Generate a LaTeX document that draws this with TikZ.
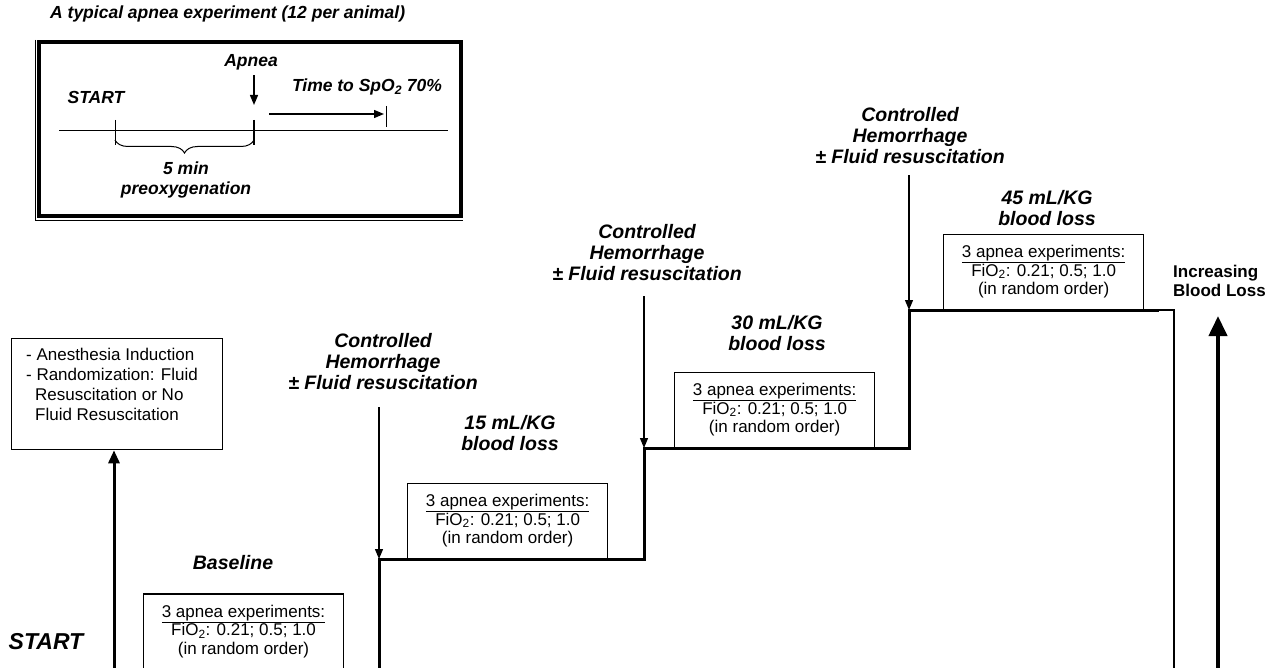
\documentclass[tikz,border=0pt]{standalone}
\usepackage{fontspec}
\setmainfont{Liberation Sans}
\usetikzlibrary{arrows.meta,decorations.pathreplacing,positioning}

\tikzset{
  lbl/.style={font=\fontsize{17.5}{20.5}\selectfont\bfseries\itshape, align=center, inner sep=0pt},
  mainlbl/.style={lbl, font=\fontsize{19.5}{21}\selectfont\bfseries\itshape},
  apneabox/.style={draw, line width=1.3pt, minimum width=200pt, minimum height=75pt,
    align=center, inner sep=0pt, font=\fontsize{17}{18.5}\selectfont},
  thinarrow/.style={->, line width=1.3pt},
  stepline/.style={line width=3pt},
}
\newcommand{\apneatext}{\underline{3 apnea experiments:}\\FiO\textsubscript{2}: 0.21; 0.5; 1.0\\(in random order)}
\newcommand{\hemtext}{Controlled\\Hemorrhage\\± Fluid resuscitation}

\begin{document}
\begin{tikzpicture}[x=1pt,y=-1pt,>={Triangle[width=8pt,length=10pt]}]
\useasboundingbox (0,0) rectangle (1276,668);

% inset: a typical apnea experiment
\node[lbl,anchor=west] (title) at (50,14) {A typical apnea experiment (12 per animal)};
\draw[line width=3.5pt] (39,42) rectangle (461,216);
\draw[line width=0.8pt] (35.5,40) -- (35.5,220) -- (463,220);
\node[lbl] (istart) at (96,97) {START};
\node[lbl] (apnea) at (251,62) {Apnea};
\node[lbl] (ttime) at (367,87) {Time to SpO\textsubscript{2} 70\%};
\node[lbl] (preox) at (186,180) {5 min\\preoxygenation};
\coordinate (t0) at (115,131);
\coordinate (t1) at (254,131);
\coordinate (t2) at (386,114);
\draw[line width=1pt] (59,131) -- (448,131);
\draw[line width=1pt] ([yshift=11pt]t0) -- ([yshift=-14pt]t0);
\draw[line width=2.5pt] ([yshift=11pt]t1) -- ([yshift=-14pt]t1);
\draw[thinarrow] ([yshift=-5pt]apnea.south -| t1) -- ([yshift=26pt]t1);
\draw[thinarrow] (269,114) -- ([xshift=-2pt]t2);
\draw[line width=1pt] ([yshift=8pt]t2) -- ([yshift=-13pt]t2);
\draw[decorate,decoration={brace,mirror,amplitude=13pt},line width=1pt]
  ([yshift=-9pt]t0) -- ([yshift=-9pt]t1);

% main timeline
\node[draw,line width=1.3pt,inner xsep=14.5pt,inner ysep=10pt,anchor=north west,
  font=\fontsize{17}{19.7}\selectfont] (prep) at (11,338)
  {\parbox[c][91pt][t]{182pt}{- Anesthesia Induction\\- Randomization: Fluid\\
   \hspace*{9pt}Resuscitation or No\\\hspace*{9pt}Fluid Resuscitation}};
\node[font=\fontsize{23}{23}\selectfont\bfseries\itshape,inner sep=0pt] (start) at (46,642) {START};

\coordinate (s0) at (114,668);
\coordinate (s1) at (379,559);
\coordinate (s2) at (644,448);
\coordinate (s3) at (909,310);
\coordinate (e3) at (1174,310);

\draw[->,line width=3pt,>={Triangle[width=11pt,length=13pt]}] (s0) -- (s0 |- prep.south);

\node[apneabox] (b0) at (243.5,631.5) {\apneatext};
\node[apneabox,above right=0pt and 28pt of s1] (b1) {\apneatext};
\node[apneabox,above right=0pt and 30pt of s2] (b2) {\apneatext};
\node[apneabox,above right=0pt and 34pt of s3] (b3) {\apneatext};

\node[mainlbl] (base) at (233,563) {Baseline};
\node[mainlbl] (loss1) at (510,433.5) {15 mL/KG\\blood loss};
\node[mainlbl] (loss2) at (777,333) {30 mL/KG\\blood loss};
\node[mainlbl] (loss3) at (1047,208) {45 mL/KG\\blood loss};

\node[mainlbl] (hem1) at (383,362) {\hemtext};
\node[mainlbl] (hem2) at (647,253) {\hemtext};
\node[mainlbl] (hem3) at (910,136) {\hemtext};

% steps of blood loss
\draw[stepline] (s1 |- s0) -- (s1) -- (s2 |- s1) -- (s2) -- (s3 |- s2) -- (s3) -- ([xshift=15pt]b3.south east);
\draw[line width=2pt] (s3) -- (e3) -- (e3 |- s0);

\draw[thinarrow] ([yshift=-17pt]hem1.south -| s1) -- (s1);
\draw[thinarrow] ([yshift=-15pt]hem2.south -| s2) -- (s2);
\draw[thinarrow] ([yshift=-11pt]hem3.south -| s3) -- (s3);

\node[font=\fontsize{17}{18.5}\selectfont\bfseries,align=left,anchor=west,inner sep=0pt] (incr) at (1173,281) {Increasing\\Blood Loss};
\draw[->,line width=4pt,>={Triangle[width=18pt,length=20pt]}] (1218,668) -- (1218,316);
\end{tikzpicture}
\end{document}
